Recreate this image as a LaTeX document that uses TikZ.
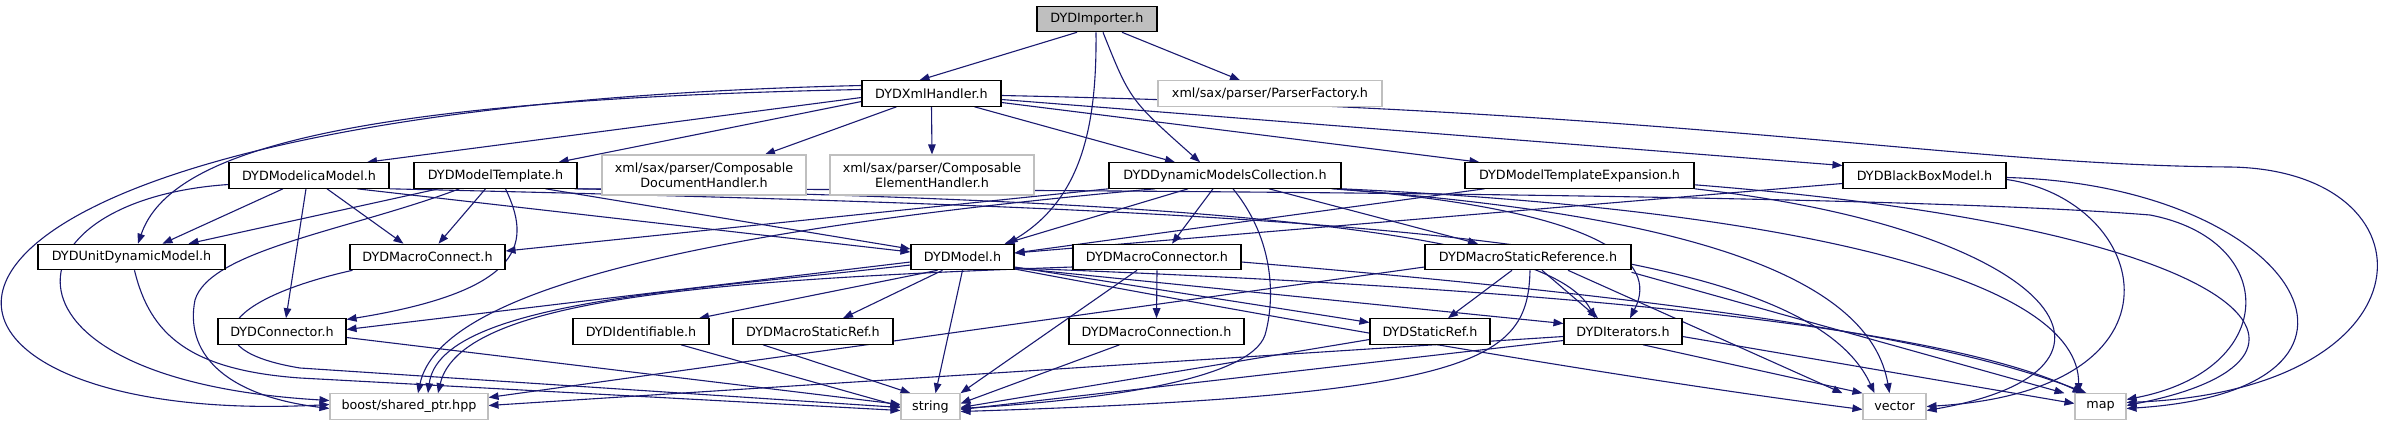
\documentclass[tikz,border=0pt]{standalone}
\usepackage{fontspec}
\setmainfont{DejaVu Sans}
\usetikzlibrary{arrows.meta,backgrounds}
\definecolor{eblue}{HTML}{191970}
\definecolor{gbord}{HTML}{BFBFBF}
\definecolor{impfill}{HTML}{BFBFBF}
\tikzset{
  box/.style={draw=black, line width=1.1pt, fill=white, inner sep=0pt, minimum height=25.5pt,
    font=\fontsize{12.75pt}{15pt}\selectfont},
  gbox/.style={box, draw=gbord},
  e/.style={draw=eblue, line width=1.1pt, -{Triangle[length=10pt,width=7.5pt]}},
}
\begin{document}
\begin{tikzpicture}[x=1pt,y=-1pt]
\useasboundingbox (0,0) rectangle (2395,425);
% row 1
\node[box, fill=impfill, minimum width=120pt] (imp) at (1097,19) {DYDImporter.h};
% row 2
\node[box, minimum width=139pt] (xml) at (931.5,93.5) {DYDXmlHandler.h};
\node[gbox, minimum width=224pt] (pf) at (1270,93.5) {xml/sax/parser/ParserFactory.h};
% row 3
\node[box, minimum width=160pt] (mm) at (309,175.5) {DYDModelicaModel.h};
\node[box, minimum width=163pt] (mt) at (495.5,175.5) {DYDModelTemplate.h};
\node[gbox, minimum width=204pt, minimum height=40pt, align=center] (cdh) at (704,175) {xml/sax/parser/Composable\\DocumentHandler.h};
\node[gbox, minimum width=204pt, minimum height=40pt, align=center] (ceh) at (932,175) {xml/sax/parser/Composable\\ElementHandler.h};
\node[box, minimum width=232pt] (dmc) at (1225,175.5) {DYDDynamicModelsCollection.h};
\node[box, minimum width=229pt] (mte) at (1579.5,175.5) {DYDModelTemplateExpansion.h};
\node[box, minimum width=163pt] (bbm) at (1924.5,175.5) {DYDBlackBoxModel.h};
% row 4
\node[box, minimum width=187pt] (udm) at (131.5,257) {DYDUnitDynamicModel.h};
\node[box, minimum width=155pt] (mc) at (427.5,257) {DYDMacroConnect.h};
\node[box, minimum width=103pt] (model) at (962.5,257) {DYDModel.h};
\node[box, minimum width=168pt] (mcr) at (1157,257) {DYDMacroConnector.h};
\node[box, minimum width=206pt] (msr) at (1528,257) {DYDMacroStaticReference.h};
% row 5
\node[box, minimum width=128pt] (con) at (282,331.5) {DYDConnector.h};
\node[box, minimum width=136pt] (ide) at (641,331.5) {DYDIdentifiable.h};
\node[box, minimum width=160pt] (msref) at (813,331.5) {DYDMacroStaticRef.h};
\node[box, minimum width=175pt] (mcn) at (1156.5,331.5) {DYDMacroConnection.h};
\node[box, minimum width=120pt] (sr) at (1430,331.5) {DYDStaticRef.h};
\node[box, minimum width=118pt] (it) at (1623,331.5) {DYDIterators.h};
% row 6
\node[gbox, minimum width=158pt] (boost) at (409,406.5) {boost/shared\_ptr.hpp};
\node[gbox, minimum width=59pt] (str) at (930.5,406.5) {string};
\node[gbox, minimum width=63pt] (vec) at (1894.5,406.5) {vector};
\node[gbox, minimum width=51pt] (map) at (2100.5,406.5) {map};

\begin{scope}[on background layer]
% DYDImporter
\draw[e] ([xshift=-20pt]imp.south) -- ([xshift=-12pt]xml.north);
\draw[e] ([xshift=25pt]imp.south) -- ([xshift=-30pt]pf.north);
\draw[e] ([xshift=6pt]imp.south) .. controls (1130,100) .. ([xshift=-25pt]dmc.north);
\draw[e] ([xshift=-1pt]imp.south) .. controls (1097,130) and (1080,200) .. ([xshift=45pt]model.north);
% DYDXmlHandler
\draw[e] ([yshift=-4pt]xml.west) -- ([xshift=58pt]mm.north);
\draw[e] ([yshift=-8pt]xml.west) -- ([xshift=63pt]mt.north);
\draw[e] ([xshift=-35pt]xml.south) -- ([xshift=61pt]cdh.north);
\draw[e] (xml.south) -- (ceh.north);
\draw[e] ([xshift=43pt]xml.south) -- ([xshift=-50pt]dmc.north);
\draw[e] ([yshift=-9pt]xml.east) -- ([xshift=-100pt]mte.north);
\draw[e] ([yshift=-6pt]xml.east) -- ([yshift=10pt]bbm.west);
\draw[e] ([yshift=-2pt]xml.east) .. controls (1700,110) and (1950,165) .. (2230,167)
  .. controls (2440,170) and (2440,390) .. ([yshift=4pt]map.east);
\draw[e] ([yshift=4pt]xml.west) .. controls (350,100) and (170,150) .. ([xshift=6.5pt]udm.north);
\draw[e] ([yshift=8pt]xml.west) .. controls (-200,110) and (-150,430) .. ([yshift=2pt]boost.west);
% DYDModelicaModel
\draw[e] ([xshift=-26pt]mm.south) -- ([xshift=31pt]udm.north);
\draw[e] ([xshift=18pt]mm.south) -- ([xshift=-24pt]mc.north);
\draw[e] ([xshift=-3pt]mm.south) -- ([xshift=4pt]con.north);
\draw[e] ([yshift=-9pt]mm.west) .. controls (0,200) and (-20,380) .. ([yshift=6pt]boost.west);
\draw[e] ([xshift=48pt]mm.south) -- ([yshift=5pt]model.west);
\draw[e] (mm.south east) .. controls (1300,210) and (1800,230) .. ([xshift=-20pt]vec.north);
% DYDModelTemplate
\draw[e] ([xshift=-57pt]mt.south) -- ([xshift=57pt]udm.north);
\draw[e] ([xshift=-10pt]mt.south) -- ([xshift=11pt]mc.north);
\draw[e] ([xshift=10pt]mt.south) .. controls (530,240) and (530,290) .. ([yshift=12pt]con.east);
\draw[e] ([xshift=-36pt]mt.south) .. controls (350,230) and (210,250) .. (195,300)
  .. controls (185,350) and (220,395) .. ([yshift=-2pt]boost.west);
\draw[e] ([xshift=50pt]mt.south) -- ([yshift=8pt]model.west);
\draw[e] ([xshift=-3pt]mt.south east) .. controls (1200,200) and (1550,230) .. ([xshift=-28pt]it.north);
\draw[e] (mt.south east) .. controls (1200,190) and (1900,195) .. (2150,215)
  .. controls (2280,240) and (2280,370) .. ([yshift=7pt]map.east);
% DYDDynamicModelsCollection
\draw[e] ([xshift=-37pt]dmc.south) -- ([xshift=42pt]model.north);
\draw[e] ([xshift=-12pt]dmc.south) -- ([xshift=15pt]mcr.north);
\draw[e] ([xshift=44pt]dmc.south) -- ([xshift=-50pt]msr.north);
\draw[e] ([xshift=8pt]dmc.south) .. controls (1275,240) and (1275,300) .. (1265,335)
  .. controls (1250,380) and (1100,400) .. ([yshift=-2pt]str.east);
\draw[e] (dmc.south west) -- ([yshift=6pt]mc.east);
\draw[e] ([xshift=-70pt]dmc.south) .. controls (700,230) and (440,290) .. ([xshift=9pt]boost.north);
\draw[e] ([xshift=-10pt]dmc.south east) .. controls (1700,215) and (1870,280) .. ([xshift=-5pt]vec.north);
\draw[e] (dmc.south east) .. controls (1800,210) and (2080,280) .. ([xshift=-22pt]map.north);
\draw[e] ([xshift=-5pt]dmc.south east) .. controls (1600,210) and (1660,260) .. ([xshift=7pt]it.north);
% DYDModelTemplateExpansion, DYDBlackBoxModel
\draw[e] ([xshift=-95pt]mte.south) -- ([yshift=4pt]model.east);
\draw[e] (mte.south east) .. controls (2060,230) and (2160,370) .. ([yshift=-4pt]vec.east);
\draw[e] ([yshift=4pt]mte.south east) .. controls (2270,230) and (2360,360) .. ([yshift=1pt]map.east);
\draw[e] ([yshift=-8pt]bbm.west) -- ([yshift=4pt]model.east);
\draw[e] ([yshift=-4pt]bbm.east) .. controls (2150,200) and (2200,390) .. ([yshift=0pt]vec.east);
\draw[e] ([yshift=-2pt]bbm.east) .. controls (2300,185) and (2420,390) .. ([yshift=-2pt]map.east);
% DYDUnitDynamicModel, DYDMacroConnect
\draw[e] ([xshift=3pt]udm.south) .. controls (150,335) and (190,370) .. (300,378) -- ([yshift=-4pt]str.west);
\draw[e] ([xshift=-75pt]mc.south) .. controls (220,300) and (190,350) .. (300,368) -- ([yshift=-1pt]str.west);
% DYDModel
\draw[e] ([yshift=-5pt]model.west) -- ([yshift=2pt]con.east);
\draw[e] ([xshift=-25pt]model.south) -- ([xshift=58pt]ide.north);
\draw[e] ([xshift=-20pt]model.south) -- ([xshift=30pt]msref.north);
\draw[e] (model.south) -- ([xshift=5pt]str.north);
\draw[e] ([yshift=-10pt]model.east) -- ([yshift=9pt]sr.west);
\draw[e] ([yshift=-11pt]model.east) -- ([yshift=8pt]it.west);
\draw[e] ([yshift=-12pt]model.east) .. controls (1500,360) and (1750,395) .. ([yshift=-3pt]vec.west);
\draw[e] ([yshift=-11pt]model.east) .. controls (1600,290) and (1950,330) .. ([xshift=-18pt]map.north);
\draw[e] ([yshift=-8pt]model.west) .. controls (700,290) and (440,300) .. ([xshift=19pt]boost.north);
% DYDMacroConnector
\draw[e] (mcr.south) -- (mcn.north);
\draw[e] ([xshift=-20pt]mcr.south) -- (str.north east);
\draw[e] ([yshift=-10pt]mcr.west) .. controls (700,280) and (460,300) .. ([xshift=29pt]boost.north);
\draw[e] ([yshift=-5pt]mcr.east) .. controls (1700,300) and (1950,340) .. ([xshift=-14pt]map.north);
% DYDMacroStaticReference
\draw[e] ([xshift=-16pt]msr.south) -- ([xshift=18pt]sr.north);
\draw[e] ([xshift=14pt]msr.south) -- ([xshift=-25pt]it.north);
\draw[e] ([xshift=2pt]msr.south) .. controls (1528,360) and (1480,395) .. ([yshift=-5pt]str.east);
\draw[e] ([yshift=-10pt]msr.west) -- ([yshift=9pt]boost.east);
\draw[e] ([xshift=40pt]msr.south) -- ([xshift=-20pt]vec.north west);
\draw[e] ([yshift=-2pt]msr.south east) -- ([xshift=-10pt]map.north west);
% DYDIterators
\draw[e] ([xshift=20pt]it.south) -- (vec.north west);
\draw[e] ([yshift=-5pt]it.east) -- ([yshift=3pt]map.west);
\draw[e] ([yshift=-5pt]it.west) -- ([yshift=1pt]boost.east);
\draw[e] ([yshift=-9pt]it.west) -- ([yshift=-3pt]str.east);
% leaves
\draw[e] ([yshift=-6pt]con.east) -- ([yshift=2pt]str.west);
\draw[e] ([xshift=40pt]ide.south) -- (str.west);
\draw[e] ([xshift=-50pt]msref.south) -- ([xshift=-20pt]str.north);
\draw[e] ([xshift=-37pt]mcn.south) -- ([yshift=3pt]str.east);
\draw[e] ([yshift=-8pt]sr.west) -- ([yshift=-1pt]str.east);
\end{scope}
\end{tikzpicture}
\end{document}
